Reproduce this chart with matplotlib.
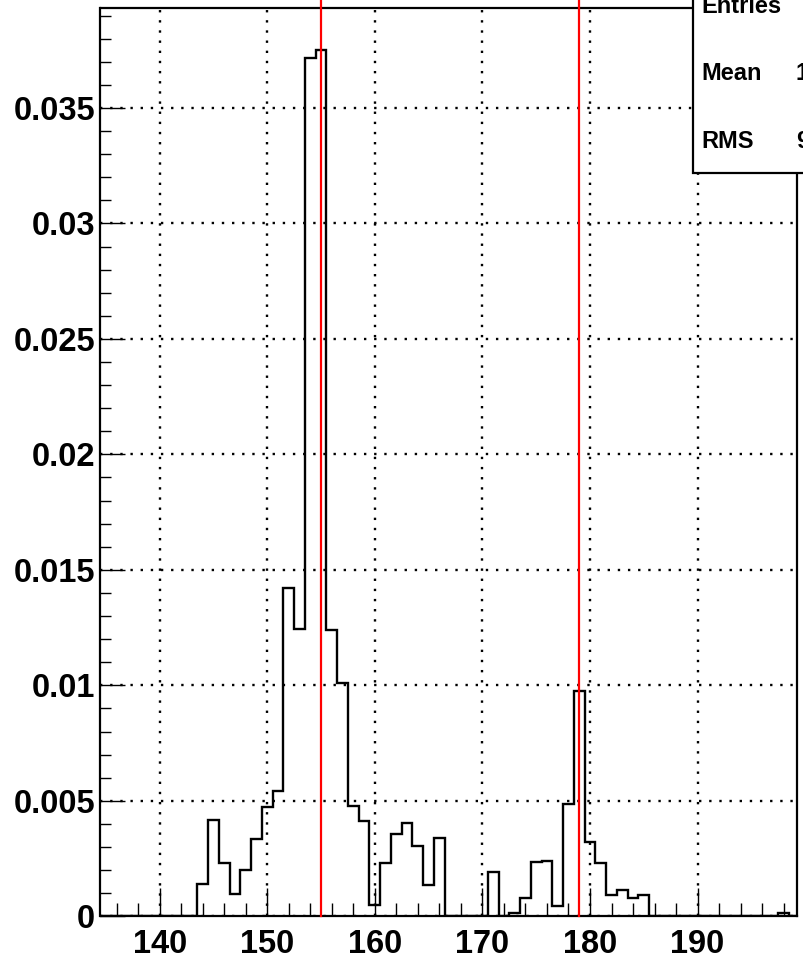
import numpy as np
import matplotlib
matplotlib.use("Agg")
import matplotlib.pyplot as plt
from matplotlib.patches import Rectangle
from matplotlib.ticker import MultipleLocator, FixedLocator, FixedFormatter

# ---- data (bin centres are integers, bin width 1) ----
bin_lo = 134.5
bin_hi = 199.5
values = {
    144: 0.00142, 145: 0.00419, 146: 0.00231, 147: 0.00097, 148: 0.00202,
    149: 0.00335, 150: 0.00474, 151: 0.00541, 152: 0.01423, 153: 0.01245,
    154: 0.03718, 155: 0.03751, 156: 0.01238, 157: 0.01008, 158: 0.00477,
    159: 0.00412, 160: 0.00047, 161: 0.00231, 162: 0.00358, 163: 0.00404,
    164: 0.00306, 165: 0.00137, 166: 0.00338,
    171: 0.00191, 173: 0.00015, 174: 0.00078, 175: 0.00237, 176: 0.00241,
    177: 0.00046, 178: 0.00486, 179: 0.00975, 180: 0.00322, 181: 0.00231,
    182: 0.00094, 183: 0.00113, 184: 0.00080, 185: 0.00094, 198: 0.00014,
}
red_lines = [155, 179]
xtick_labels = ["140", "150", "160", "170", "180", "190"]
xtick_vals = [140, 150, 160, 170, 180, 190]
ytick_vals = [0, 0.005, 0.01, 0.015, 0.02, 0.025, 0.03, 0.035]
ytick_labels = ["0", "0.005", "0.01", "0.015", "0.02", "0.025", "0.03", "0.035"]
stats_names = ["Entries", "Mean", "RMS"]
stats_vals = ["", "163.3", "9.684"]

edges = np.arange(bin_lo, bin_hi + 0.5, 1.0)
centres = (edges[:-1] + edges[1:]) / 2
counts = np.array([values.get(int(round(c)), 0.0) for c in centres])

W, H = 804, 972
fig = plt.figure(figsize=(W / 100, H / 100), dpi=100)
ax = fig.add_axes([100.5 / W, 1 - 916.3 / H, (797.3 - 100.5) / W, (916.3 - 7.7) / H])

FONT = "Liberation Sans"

ax.set_xlim(134.5, 199.27)
ax.set_ylim(0, 0.03934)

# grid
ax.xaxis.set_major_locator(FixedLocator(xtick_vals))
ax.xaxis.set_major_formatter(FixedFormatter(xtick_labels))
ax.xaxis.set_minor_locator(MultipleLocator(2))
ax.yaxis.set_major_locator(FixedLocator(ytick_vals))
ax.yaxis.set_major_formatter(FixedFormatter(ytick_labels))
ax.yaxis.set_minor_locator(MultipleLocator(0.001))
ax.grid(True, which="major", color="black", linestyle=(0, (1, 3.3)), linewidth=1.7)
ax.set_axisbelow(True)

ax.tick_params(axis="x", which="major", direction="in", length=20, width=1.0,
               top=False, pad=9, labelsize=23.5)
ax.tick_params(axis="x", which="minor", direction="in", length=9.5, width=1.0, top=False)
ax.tick_params(axis="y", which="major", direction="in", length=18, width=1.0,
               right=False, pad=4, labelsize=23.5)
ax.tick_params(axis="y", which="minor", direction="in", length=8, width=1.0, right=False)
for lab in ax.get_xticklabels() + ax.get_yticklabels():
    lab.set_fontfamily(FONT)
    lab.set_fontweight("bold")

for s in ax.spines.values():
    s.set_linewidth(1.6)

ax.stairs(counts, edges, color="black", linewidth=1.7, baseline=0, zorder=3)

for xv in red_lines:
    ax.plot([xv, xv], [0, 0.0405], color="#ff0000", linewidth=1.6, zorder=4, clip_on=False)

# stats box (partially outside the canvas, as in the reference)
box = Rectangle((692.7 / W, 1 - 173.3 / H), 0.3, 0.3, transform=fig.transFigure,
                facecolor="white", edgecolor="black", linewidth=1.6, zorder=10)
fig.add_artist(box)
baselines = [13, 80, 148]
for name, val, b in zip(stats_names, stats_vals, baselines):
    fig.text(701.7 / W, 1 - b / H, name, fontsize=17, fontweight="bold", family=FONT,
             va="baseline", ha="left", zorder=11)
    if val:
        fig.text(796.0 / W, 1 - b / H, val, fontsize=17, fontweight="bold", family=FONT,
                 va="baseline", ha="left", zorder=11)

fig.savefig("out.png", dpi=100)
